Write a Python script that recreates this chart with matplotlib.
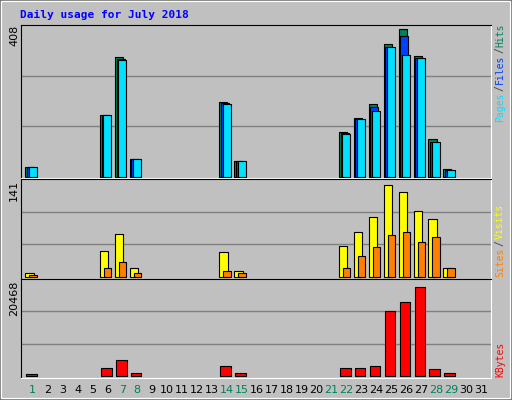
import numpy as np
import matplotlib
matplotlib.use("Agg")
import matplotlib.pyplot as plt
from matplotlib.patches import Rectangle

days = np.arange(1, 32)
weekend = {1, 7, 8, 14, 15, 21, 22, 28, 29}

# per-day values (0 = no traffic)
hits = [26, 0, 0, 0, 0, 168, 325, 48, 0, 0, 0, 0, 0, 201, 42, 0, 0, 0, 0, 0, 0,
        120, 160, 198, 360, 400, 327, 101, 21, 0, 0]
files = [26, 0, 0, 0, 0, 168, 318, 48, 0, 0, 0, 0, 0, 199, 42, 0, 0, 0, 0, 0, 0,
         118, 155, 188, 351, 381, 322, 93, 18, 0, 0]
pages = [26, 0, 0, 0, 0, 168, 316, 48, 0, 0, 0, 0, 0, 197, 42, 0, 0, 0, 0, 0, 0,
         115, 155, 179, 351, 330, 322, 93, 18, 0, 0]
visits = [5, 0, 0, 0, 0, 38, 62, 12, 0, 0, 0, 0, 0, 36, 9, 0, 0, 0, 0, 0, 0,
          44, 65, 87, 133, 123, 96, 84, 12, 0, 0]
sites = [2, 0, 0, 0, 0, 12, 22, 6, 0, 0, 0, 0, 0, 9, 6, 0, 0, 0, 0, 0, 0,
         12, 30, 43, 61, 65, 51, 58, 12, 0, 0]
kbytes = [280, 0, 0, 0, 0, 1720, 3380, 480, 0, 0, 0, 0, 0, 2140, 480, 0, 0, 0, 0, 0, 0,
          1720, 1720, 2140, 13710, 15570, 18880, 1520, 480, 0, 0]

BG = "#C0C0C0"
C_HITS, C_FILES, C_PAGES = "#00805C", "#0040FF", "#00E0FF"
C_VIS, C_SITES, C_KB = "#FFFF00", "#FF8000", "#FF0000"

W, H = 512, 400
fig = plt.figure(figsize=(W / 100, H / 100), dpi=100, facecolor=BG)
fig.patches.append(Rectangle((0, 0), 1, 1, transform=fig.transFigure, fill=False,
                             edgecolor="#707070", lw=3))
fig.patches.append(Rectangle((0.002, 0.004), 0.994, 0.993, transform=fig.transFigure,
                             fill=False, edgecolor="white", lw=1))


def pax(top, bottom):
    ax = fig.add_axes([20.7 / W, 1 - bottom / H, 470 / W, (bottom - top) / H])
    ax.set_facecolor(BG)
    ax.set_xlim(-0.31, 31.17)
    ax.set_xticks([]); ax.set_yticks([])
    for s in ("top", "left"):
        ax.spines[s].set_color("black")
    for s in ("bottom", "right"):
        ax.spines[s].set_color("white")
    return ax


def bars(ax, vals, off, w, color):
    v = np.asarray(vals, float)
    m = v > 0
    ax.bar(days[m] - 1 + off, v[m], width=w, align="edge", color=color,
           edgecolor="black", lw=0.8, zorder=3)


def grid(ax, ys):
    for y in ys:
        ax.axhline(y, color="#808080", lw=1, zorder=1)


ax1 = pax(25, 178)
ax1.set_ylim(-3.5, 410.7)
grid(ax1, [136, 272])
bars(ax1, hits, 0.0, 0.54, C_HITS)
bars(ax1, files, 0.11, 0.54, C_FILES)
bars(ax1, pages, 0.23, 0.54, C_PAGES)

ax2 = pax(179, 279)
ax2.set_ylim(-3.3, 142)
grid(ax2, [47, 94])
bars(ax2, visits, 0.0, 0.56, C_VIS)
bars(ax2, sites, 0.27, 0.5, C_SITES)

ax3 = pax(279, 378)
ax3.set_ylim(-475, 20468)
grid(ax3, [20468 / 3, 2 * 20468 / 3])
bars(ax3, kbytes, 0.07, 0.71, C_KB)

for d in days:
    ax3.text(d - 1 + 0.5, -0.07, str(d), transform=ax3.get_xaxis_transform(),
             ha="center", va="top", fontsize=8,
             color="#00805C" if d in weekend else "black")

fig.text(20 / W, 1 - 15 / H, "Daily usage for July 2018", color="#0000FF",
         family="DejaVu Sans Mono", fontweight="bold", fontsize=8, va="center")

for lab, ytop in (("408", 25), ("141", 180), ("20468", 281)):
    fig.text(14 / W, 1 - ytop / H, lab, rotation=90, ha="center", va="top", fontsize=8)


def side(pieces, ybottom, size=7):
    step = 0.602 * size / 72 * 100 + 0.4
    y = ybottom
    for txt, col in pieces:
        fig.text(500 / W, 1 - y / H, txt, rotation=90, ha="center", va="bottom",
                 color=col, family="DejaVu Sans Mono", fontsize=size)
        y -= step * len(txt)


side([("Pages", C_PAGES), ("/", "#404040"), ("Files", C_FILES),
      ("/", "#404040"), ("Hits", C_HITS)], 122)
side([("Sites", C_SITES), ("/", "#404040"), ("Visits", C_VIS)], 277)
side([("KBytes", C_KB)], 377)

fig.savefig("out.png", dpi=100, facecolor=BG)
